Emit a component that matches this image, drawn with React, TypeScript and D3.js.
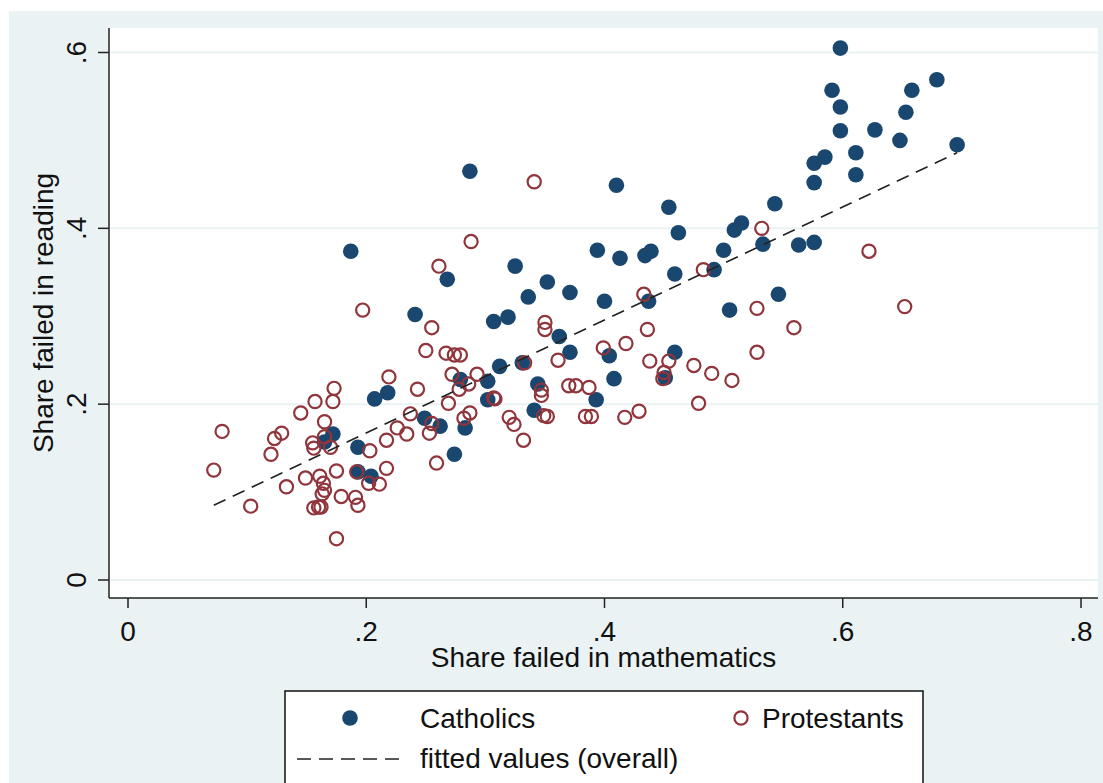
import * as d3 from "d3";
import { FC, useEffect, useRef } from "react";

// Catholics: share failed in mathematics / reading
const CATH_MATH: number[] = [
  0.598, 0.679, 0.591, 0.658, 0.598, 0.653, 0.598, 0.627, 0.648, 0.696, 0.611,
  0.585, 0.576, 0.611, 0.576, 0.287, 0.41, 0.454, 0.543, 0.515, 0.509, 0.462,
  0.533, 0.563, 0.576, 0.5, 0.394, 0.413, 0.434, 0.439, 0.187, 0.325, 0.352,
  0.492, 0.459, 0.336, 0.371, 0.437, 0.4, 0.546, 0.505, 0.319, 0.307, 0.268,
  0.241, 0.362, 0.371, 0.404, 0.459, 0.331, 0.312, 0.451, 0.408, 0.344, 0.393,
  0.341, 0.302, 0.279, 0.302, 0.207, 0.218, 0.249, 0.262, 0.283, 0.274, 0.172,
  0.165, 0.193, 0.193, 0.204,
];
const CATH_READ: number[] = [
  0.605, 0.569, 0.557, 0.557, 0.538, 0.532, 0.511, 0.512, 0.5, 0.495, 0.486,
  0.481, 0.474, 0.461, 0.452, 0.465, 0.449, 0.424, 0.428, 0.406, 0.398, 0.395,
  0.382, 0.381, 0.384, 0.375, 0.375, 0.366, 0.369, 0.374, 0.374, 0.357, 0.339,
  0.353, 0.348, 0.322, 0.327, 0.317, 0.317, 0.325, 0.307, 0.299, 0.294, 0.342,
  0.302, 0.277, 0.259, 0.255, 0.259, 0.247, 0.243, 0.23, 0.229, 0.223, 0.205,
  0.193, 0.226, 0.228, 0.205, 0.206, 0.213, 0.184, 0.175, 0.173, 0.143, 0.166,
  0.157, 0.151, 0.123, 0.118,
];

// Protestants
const PROT_MATH: number[] = [
  0.341, 0.532, 0.622, 0.652, 0.559, 0.483, 0.433, 0.528, 0.35, 0.35, 0.436,
  0.418, 0.399, 0.361, 0.333, 0.438, 0.454, 0.528, 0.475, 0.49, 0.507, 0.45,
  0.449, 0.347, 0.347, 0.37, 0.376, 0.387, 0.479, 0.429, 0.307, 0.417, 0.32,
  0.324, 0.352, 0.349, 0.384, 0.389, 0.332, 0.288, 0.261, 0.197, 0.255, 0.25,
  0.267, 0.274, 0.279, 0.272, 0.293, 0.286, 0.278, 0.219, 0.173, 0.157, 0.172,
  0.243, 0.269, 0.145, 0.237, 0.282, 0.287, 0.165, 0.079, 0.123, 0.129, 0.155,
  0.156, 0.165, 0.17, 0.12, 0.072, 0.103, 0.133, 0.149, 0.161, 0.164, 0.165,
  0.163, 0.175, 0.156, 0.16, 0.162, 0.179, 0.175, 0.203, 0.192, 0.202, 0.211,
  0.191, 0.193, 0.217, 0.217, 0.226, 0.234, 0.255, 0.253, 0.259, 0.308,
];
const PROT_READ: number[] = [
  0.453, 0.4, 0.374, 0.311, 0.287, 0.353, 0.325, 0.309, 0.293, 0.285, 0.285,
  0.269, 0.264, 0.25, 0.247, 0.249, 0.249, 0.259, 0.244, 0.235, 0.227, 0.236,
  0.229, 0.216, 0.21, 0.221, 0.221, 0.219, 0.201, 0.192, 0.207, 0.185, 0.185,
  0.177, 0.186, 0.187, 0.186, 0.186, 0.159, 0.385, 0.357, 0.307, 0.287, 0.261,
  0.258, 0.256, 0.256, 0.234, 0.234, 0.223, 0.217, 0.231, 0.218, 0.203, 0.203,
  0.217, 0.201, 0.19, 0.189, 0.184, 0.19, 0.18, 0.169, 0.161, 0.167, 0.156,
  0.15, 0.163, 0.151, 0.143, 0.125, 0.084, 0.106, 0.116, 0.118, 0.11, 0.102,
  0.098, 0.124, 0.082, 0.083, 0.083, 0.095, 0.047, 0.147, 0.123, 0.11, 0.109,
  0.094, 0.085, 0.159, 0.127, 0.173, 0.166, 0.178, 0.167, 0.133, 0.206,
];

// fitted values (overall), end points of the OLS line
const FIT_MATH: number[] = [0.072, 0.696];
const FIT_READ: number[] = [0.085, 0.486];

const X_TICKS: number[] = [0, 0.2, 0.4, 0.6, 0.8];
const X_TICK_LABELS: string[] = ["0", ".2", ".4", ".6", ".8"];
const Y_TICKS: number[] = [0, 0.2, 0.4, 0.6];
const Y_TICK_LABELS: string[] = ["0", ".2", ".4", ".6"];

const NAVY = "#1a476f";
const MAROON = "#90353b";
const BG = "#eaf2f3";
const FONT = "'Liberation Sans', Arial, sans-serif";

const App: FC = () => {
  const svgRef = useRef<SVGSVGElement | null>(null);

  useEffect(() => {
    if (!svgRef.current) return;
    const svg = d3.select(svgRef.current);
    svg.selectAll("*").remove();

    const plot = { left: 109, right: 1098, top: 28, bottom: 598 };
    const x = d3.scaleLinear().domain([0, 0.8]).range([128, 1081]);
    const y = d3.scaleLinear().domain([0, 0.6]).range([580, 52.5]);

    svg.append("rect").attr("width", 1103).attr("height", 783).attr("fill", "#fff");
    svg
      .append("rect")
      .attr("x", 9)
      .attr("y", 11)
      .attr("width", 1103)
      .attr("height", 783)
      .attr("fill", BG);
    svg
      .append("rect")
      .attr("x", plot.left)
      .attr("y", plot.top)
      .attr("width", plot.right - plot.left)
      .attr("height", plot.bottom - plot.top)
      .attr("fill", "#fff");

    // gridlines
    svg
      .append("g")
      .selectAll("line")
      .data(Y_TICKS)
      .enter()
      .append("line")
      .attr("x1", plot.left)
      .attr("x2", plot.right)
      .attr("y1", (d) => y(d))
      .attr("y2", (d) => y(d))
      .attr("stroke", BG)
      .attr("stroke-width", 2);

    // axes
    const axisColor = "#222";
    svg
      .append("line")
      .attr("x1", plot.left)
      .attr("x2", plot.left)
      .attr("y1", plot.top)
      .attr("y2", plot.bottom)
      .attr("stroke", axisColor)
      .attr("stroke-width", 1.5);
    svg
      .append("line")
      .attr("x1", plot.left)
      .attr("x2", plot.right)
      .attr("y1", plot.bottom)
      .attr("y2", plot.bottom)
      .attr("stroke", axisColor)
      .attr("stroke-width", 1.5);

    const xt = svg.append("g").selectAll("g").data(X_TICKS).enter().append("g");
    xt.append("line")
      .attr("x1", (d) => x(d))
      .attr("x2", (d) => x(d))
      .attr("y1", plot.bottom)
      .attr("y2", plot.bottom + 10)
      .attr("stroke", axisColor)
      .attr("stroke-width", 1.5);
    xt.append("text")
      .attr("x", (d) => x(d))
      .attr("y", 641)
      .attr("text-anchor", "middle")
      .attr("font-family", FONT)
      .attr("font-size", 28)
      .attr("fill", "#111")
      .text((_, i) => X_TICK_LABELS[i]);

    const yt = svg.append("g").selectAll("g").data(Y_TICKS).enter().append("g");
    yt.append("line")
      .attr("x1", plot.left - 11)
      .attr("x2", plot.left)
      .attr("y1", (d) => y(d))
      .attr("y2", (d) => y(d))
      .attr("stroke", axisColor)
      .attr("stroke-width", 1.5);
    yt.append("text")
      .attr("transform", (d) => `translate(86, ${y(d)}) rotate(-90)`)
      .attr("text-anchor", "middle")
      .attr("font-family", FONT)
      .attr("font-size", 28)
      .attr("fill", "#111")
      .text((_, i) => Y_TICK_LABELS[i]);

    svg
      .append("text")
      .attr("x", (plot.left + plot.right) / 2)
      .attr("y", 667)
      .attr("text-anchor", "middle")
      .attr("font-family", FONT)
      .attr("font-size", 28)
      .attr("fill", "#111")
      .text("Share failed in mathematics");
    svg
      .append("text")
      .attr("transform", `translate(53, ${(plot.top + plot.bottom) / 2}) rotate(-90)`)
      .attr("text-anchor", "middle")
      .attr("font-family", FONT)
      .attr("font-size", 28)
      .attr("fill", "#111")
      .text("Share failed in reading");

    // markers
    svg
      .append("g")
      .selectAll("circle")
      .data(CATH_MATH)
      .enter()
      .append("circle")
      .attr("cx", (d) => x(d))
      .attr("cy", (_, i) => y(CATH_READ[i]))
      .attr("r", 7.8)
      .attr("fill", NAVY);

    svg
      .append("g")
      .selectAll("circle")
      .data(PROT_MATH)
      .enter()
      .append("circle")
      .attr("cx", (d) => x(d))
      .attr("cy", (_, i) => y(PROT_READ[i]))
      .attr("r", 6.6)
      .attr("fill", "none")
      .attr("stroke", MAROON)
      .attr("stroke-width", 2.2);

    const line = d3
      .line<number>()
      .x((d) => x(d))
      .y((_, i) => y(FIT_READ[i]));
    svg
      .append("path")
      .attr("d", line(FIT_MATH))
      .attr("fill", "none")
      .attr("stroke", "#222")
      .attr("stroke-width", 1.6)
      .attr("stroke-dasharray", "13,8");

    // legend
    const lg = svg.append("g");
    lg.append("rect")
      .attr("x", 285)
      .attr("y", 691)
      .attr("width", 638)
      .attr("height", 120)
      .attr("fill", "#fff")
      .attr("stroke", "#111")
      .attr("stroke-width", 1.5);
    lg.append("circle").attr("cx", 350).attr("cy", 718).attr("r", 7.8).attr("fill", NAVY);
    lg.append("circle")
      .attr("cx", 741)
      .attr("cy", 718)
      .attr("r", 6.6)
      .attr("fill", "none")
      .attr("stroke", MAROON)
      .attr("stroke-width", 2.2);
    lg.append("line")
      .attr("x1", 297)
      .attr("x2", 403)
      .attr("y1", 759)
      .attr("y2", 759)
      .attr("stroke", "#222")
      .attr("stroke-width", 1.6)
      .attr("stroke-dasharray", "14,8");
    const legendText = [
      { t: "Catholics", x: 420, y: 728 },
      { t: "Protestants", x: 762, y: 728 },
      { t: "fitted values (overall)", x: 420, y: 768 },
    ];
    lg.selectAll("text.lt")
      .data(legendText)
      .enter()
      .append("text")
      .attr("x", (d) => d.x)
      .attr("y", (d) => d.y)
      .attr("font-family", FONT)
      .attr("font-size", 28)
      .attr("fill", "#111")
      .text((d) => d.t);
  }, []);

  return (
    <svg
      ref={svgRef}
      width={1103}
      height={783}
      style={{ position: "absolute", left: 0, top: 0 }}
    />
  );
};

export default App;
